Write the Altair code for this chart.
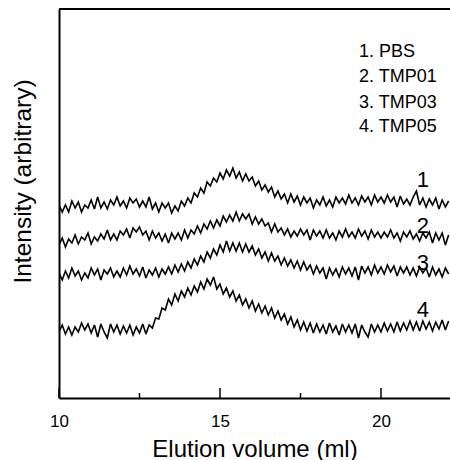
import altair as alt
import pandas as pd

# Elution volume grid (ml), 0.1 ml sampling
volume = [round(10 + 0.1 * i, 1) for i in range(122)]

# Intensities (arbitrary units)
pbs = [193,186,193,186,197,190,196,186,193,190,198,189,201,190,196,189,198,193,201,192,
       197,190,200,195,199,191,197,191,201,189,195,186,195,190,195,185,192,187,197,192,
       200,195,205,201,210,205,216,212,220,216,225,219,228,222,230,220,226,217,224,217,
       221,212,217,208,213,206,211,201,207,199,204,195,204,196,202,193,201,195,200,190,
       198,193,201,192,198,191,201,195,200,194,203,195,200,193,202,196,201,193,203,196,
       201,195,203,196,201,191,202,194,199,193,201,207,193,200,191,199,193,200,189,198,
       191,197]
tmp01 = [153,160,151,159,155,163,154,161,158,165,154,161,157,164,159,168,158,164,158,167,
         163,169,160,170,166,171,163,167,158,167,160,165,157,164,155,165,159,165,158,168,
         160,168,164,172,165,174,169,177,170,178,172,182,176,183,177,186,177,184,179,184,
         174,181,174,179,172,175,166,174,166,170,163,169,161,167,162,169,163,168,158,168,
         162,167,160,168,160,165,158,167,161,169,161,166,160,169,162,167,159,168,161,166,
         160,166,161,168,160,165,157,166,161,167,159,164,157,165,160,166,155,165,158,165,
         153,163]
tmp03 = [125,118,127,120,130,122,127,118,125,120,130,123,129,118,128,124,130,121,127,121,
         130,123,132,124,129,122,131,120,128,123,130,121,129,124,131,124,133,126,134,127,
         136,130,139,133,142,136,146,140,149,143,153,146,157,147,155,147,155,146,154,146,
         152,143,149,140,146,137,145,137,142,133,140,132,138,130,137,128,136,128,133,124,
         132,125,130,119,130,123,129,121,131,124,130,122,131,118,132,125,131,123,133,125,
         131,124,133,126,132,122,131,125,131,123,130,122,131,125,130,121,131,123,129,121,
         130,124]
tmp05 = [66,73,64,71,63,71,66,75,68,74,65,73,61,74,66,60,74,66,73,64,
         72,65,73,63,71,65,74,64,73,70,80,79,90,88,99,93,104,97,107,101,
         110,103,112,106,116,109,119,113,121,109,114,104,110,101,107,97,103,93,99,90,
         97,87,94,85,92,83,90,80,87,78,84,74,81,71,78,68,76,67,75,65,
         74,66,73,64,75,66,72,63,74,66,73,65,74,60,73,66,61,74,66,73,
         66,75,67,74,66,76,67,75,68,77,68,76,67,77,69,76,67,76,69,78,
         68,77]

series_names = ["PBS", "TMP01", "TMP03", "TMP05"]
series_values = [pbs, tmp01, tmp03, tmp05]

rows = []
for name, vals in zip(series_names, series_values):
    for v, y in zip(volume, vals):
        rows.append({"series": name, "volume": v, "intensity": y})
df = pd.DataFrame(rows)

legend_lines = ["1. PBS", "2. TMP01", "3. TMP03", "4. TMP05"]
legend_x = [19.32] * 4
legend_y = [346.3, 321.0, 295.3, 271.0]
legend_df = pd.DataFrame({"t": legend_lines, "x": legend_x, "y": legend_y})

curve_labels = ["1", "2", "3", "4"]
curve_label_x = [21.3, 21.3, 21.3, 21.3]
curve_label_y = [218, 172, 135, 88]
curve_df = pd.DataFrame({"t": curve_labels, "x": curve_label_x, "y": curve_label_y})

major_ticks = [10, 15, 20]
minor_ticks = [12.5, 17.5]

W, H = 391, 389
FONT = "Liberation Sans"

xscale = alt.Scale(domain=[10, 22.143], nice=False, zero=False)
yscale = alt.Scale(domain=[0, 389], nice=False, zero=False)

lines = alt.Chart(df).mark_line(color="black", strokeWidth=1.6, strokeJoin="miter",
                                strokeMiterLimit=3, clip=True).encode(
    x=alt.X("volume:Q", scale=xscale, title="Elution volume (ml)",
            axis=alt.Axis(values=major_ticks)),
    y=alt.Y("intensity:Q", scale=yscale, title="Intensity (arbitrary)"),
    detail="series:N",
)

top_border = alt.Chart(pd.DataFrame({"a": [0]})).mark_rule(color="black", strokeWidth=2).encode(
    x=alt.value(0), x2=alt.value(W), y=alt.value(0)
)

major = alt.Chart(pd.DataFrame({"v": major_ticks})).mark_rule(color="black", strokeWidth=1.5).encode(
    x=alt.X("v:Q", scale=xscale), y=alt.value(H), y2=alt.value(H - 10)
)
minor = alt.Chart(pd.DataFrame({"v": minor_ticks})).mark_rule(color="black", strokeWidth=1.5).encode(
    x=alt.X("v:Q", scale=xscale), y=alt.value(H), y2=alt.value(H - 5)
)

legend_text = alt.Chart(legend_df).mark_text(
    align="left", baseline="middle", fontSize=18, font=FONT, color="black"
).encode(x=alt.X("x:Q", scale=xscale), y=alt.Y("y:Q", scale=yscale), text="t:N")

curve_text = alt.Chart(curve_df).mark_text(
    align="center", baseline="middle", fontSize=22, font=FONT, color="black"
).encode(x=alt.X("x:Q", scale=xscale), y=alt.Y("y:Q", scale=yscale), text="t:N")

chart = (
    alt.layer(lines, top_border, major, minor, legend_text, curve_text)
    .properties(
        width=W, height=H,
        autosize=alt.AutoSizeParams(type="none"),
        padding={"left": 59, "top": 9, "right": 0, "bottom": 62},
    )
    .configure_view(stroke=None)
    .configure(background="white")
    .configure_axis(grid=False, domainColor="black", domainWidth=2,
                    titleFont=FONT, titleFontWeight="normal",
                    titleColor="black", labelFont=FONT, labelColor="black")
    .configure_axisX(ticks=False, labelFontSize=17, labelPadding=15, labelFlush=False,
                     titleFontSize=24, titlePadding=8)
    .configure_axisY(labels=False, ticks=False, titleFontSize=24.5, titleX=-36, titleY=172,
                     titleAngle=270, titleAlign="center", titleBaseline="middle")
)

chart.save("out.html", embed_options={"renderer": "svg", "actions": False})
